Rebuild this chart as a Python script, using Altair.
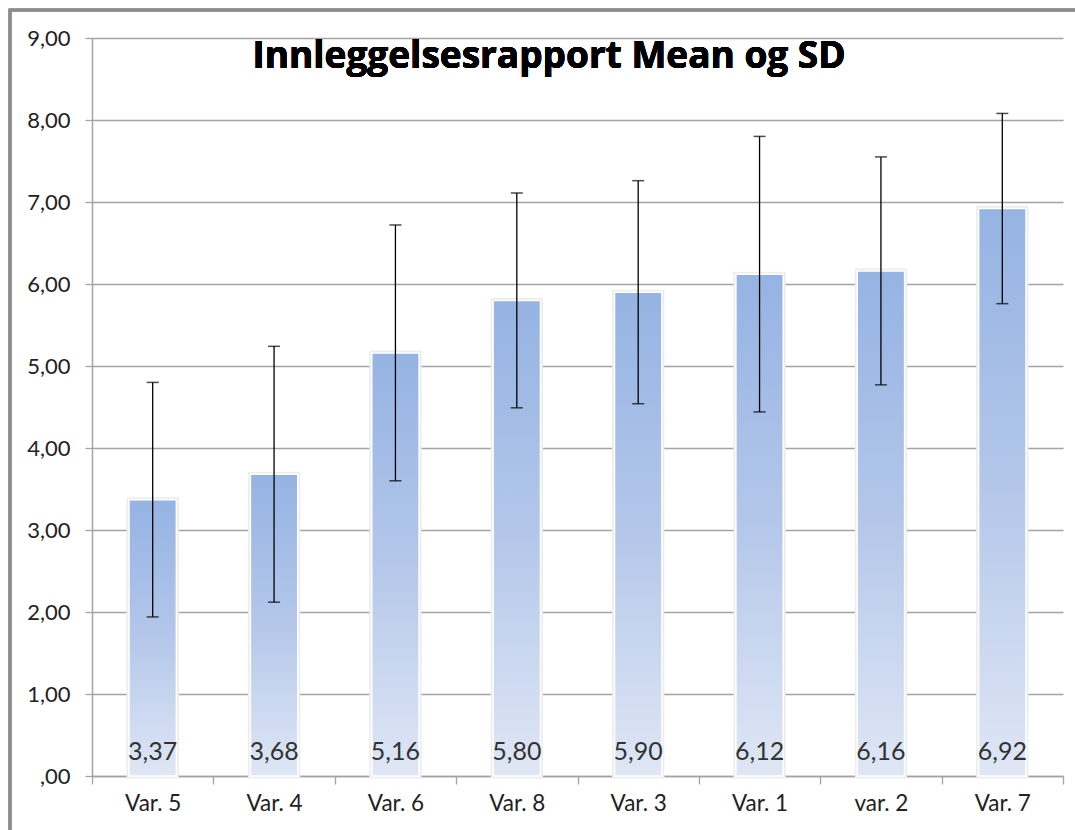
import altair as alt
import pandas as pd

categories = ["Var. 5", "Var. 4", "Var. 6", "Var. 8", "Var. 3", "Var. 1", "var. 2", "Var. 7"]
means = [3.37, 3.68, 5.16, 5.80, 5.90, 6.12, 6.16, 6.92]
sds = [1.43, 1.56, 1.56, 1.31, 1.36, 1.68, 1.39, 1.16]
labels = ["3,37", "3,68", "5,16", "5,80", "5,90", "6,12", "6,16", "6,92"]
title_text = "Innleggelsesrapport Mean og SD"

df = pd.DataFrame({"cat": categories, "mean": means, "sd": sds, "label": labels})
df["low"] = df["mean"] - df["sd"]
df["high"] = df["mean"] + df["sd"]

FONT = "Lato"
GRID = "#A3A3A3"

xenc = alt.X("cat:N", sort=categories, title=None,
             scale=alt.Scale(paddingInner=0, paddingOuter=0),
             axis=alt.Axis(labelAngle=0, labelFontSize=22.5, labelFont=FONT, labelColor="#222222",
                           tickBand="extent", tickSize=8, tickColor=GRID, tickWidth=1.3,
                           domainColor=GRID, domainWidth=1.5, labelPadding=8, grid=False))
yscale = alt.Scale(domain=[0, 9], nice=False)
yaxis = alt.Axis(values=list(range(0, 10)), title=None, labelFontSize=22, labelFont=FONT,
                 labelColor="#222222",
                 labelExpr="datum.value == 0 ? ',00' : replace(format(datum.value, '.2f'), '.', ',')",
                 grid=True, gridColor=GRID, gridWidth=1.3, tickSize=7, tickColor=GRID, tickWidth=1.3,
                 domainColor=GRID, domainWidth=1.5, labelPadding=15)

base = alt.Chart(df)

border = base.mark_rect(fill=None, stroke="#8C8C8C", strokeWidth=2.5, clip=False).encode(
    x=alt.value(-82), x2=alt.value(1000), y=alt.value(-28), y2=alt.value(820))

shadow = base.mark_bar(width=alt.RelativeBandSize(0.39), fill="#FFFFFF", stroke="#EDEDED",
                       strokeWidth=5).encode(
    x=xenc, y=alt.Y("mean:Q", scale=yscale, axis=yaxis))

bars = base.mark_bar(
    width=alt.RelativeBandSize(0.39),
    stroke="#FFFFFF", strokeWidth=1.5,
    color=alt.Gradient(gradient="linear", x1=0, x2=0, y1=0, y2=1,
                       stops=[alt.GradientStop(color="#95B3E3", offset=0),
                              alt.GradientStop(color="#B4C7EA", offset=0.5),
                              alt.GradientStop(color="#DFE7F5", offset=1)])
).encode(x=xenc, y=alt.Y("mean:Q", scale=yscale, axis=yaxis))

rules = base.mark_rule(color="#000000", strokeWidth=1.3).encode(
    x=xenc, y=alt.Y("low:Q", scale=yscale), y2="high:Q")

caps_hi = base.mark_tick(color="#000000", size=12, thickness=1.5).encode(
    x=xenc, y=alt.Y("high:Q", scale=yscale))
caps_lo = base.mark_tick(color="#000000", size=12, thickness=1.5).encode(
    x=xenc, y=alt.Y("low:Q", scale=yscale))

vals = base.mark_text(font=FONT, fontSize=25, color="#333333", dy=-24, baseline="middle").encode(
    x=xenc, y=alt.Y("datum_zero:Q", scale=yscale), text="label:N"
).transform_calculate(datum_zero="0")

title = base.mark_text(text=title_text, font="Open Sans", fontSize=37, fontWeight="bold",
                       color="#000000", baseline="alphabetic", align="center").encode(
    x=alt.value(457), y=alt.value(30))

chart = alt.layer(border, shadow, bars, rules, caps_hi, caps_lo, vals, title).properties(
    width=971, height=738,
    autosize=alt.AutoSizeParams(type="none"),
    padding={"left": 92, "top": 38, "right": 12, "bottom": 54},
    background="#FFFFFF"
).configure_view(stroke=None)

chart.save("out.html", embed_options={"renderer": "svg", "actions": False})
